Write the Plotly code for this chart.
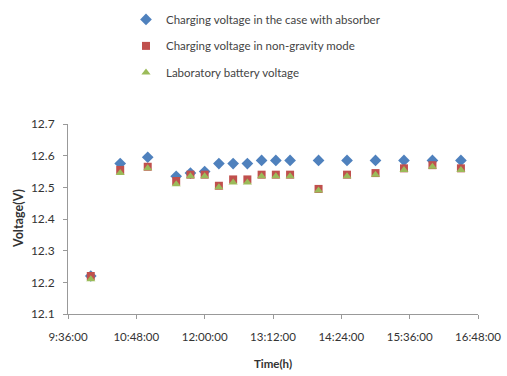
import plotly.graph_objects as go

times = ["10:00", "10:31", "11:00", "11:30", "11:45", "12:00", "12:15", "12:30", "12:45",
         "13:00", "13:15", "13:30", "14:00", "14:30", "15:00", "15:30", "16:00", "16:30"]
absorber = [12.22, 12.575, 12.595, 12.535, 12.545, 12.55, 12.575, 12.575, 12.575,
            12.585, 12.585, 12.585, 12.585, 12.585, 12.585, 12.585, 12.585, 12.585]
nongravity = [12.22, 12.555, 12.565, 12.52, 12.54, 12.54, 12.505, 12.525, 12.525,
              12.54, 12.54, 12.54, 12.495, 12.54, 12.545, 12.56, 12.57, 12.56]
laboratory = [12.21, 12.545, 12.56, 12.51, 12.535, 12.535, 12.50, 12.515, 12.515,
              12.535, 12.535, 12.535, 12.49, 12.535, 12.54, 12.555, 12.565, 12.555]

x = ["2000-01-01 " + t + ":00" for t in times]

fig = go.Figure()
fig.add_trace(go.Scatter(x=x, y=absorber, mode="markers", name="Charging voltage in the case with absorber",
                         marker=dict(symbol="diamond", size=9, color="#4F81BD"), legendgroup="a"))
fig.add_trace(go.Scatter(x=x, y=nongravity, mode="markers", name="Charging voltage in non-gravity mode",
                         marker=dict(symbol="square", size=8, color="#C0504D"), legendgroup="b"))
fig.add_trace(go.Scatter(x=x, y=laboratory, mode="markers", name="Laboratory battery voltage",
                         marker=dict(symbol="triangle-up", size=8, color="#9BBB59"), legendgroup="c"))

font = "Lato, 'Open Sans', sans-serif"
fig.update_layout(
    width=507, height=376,
    margin=dict(l=68, r=29, t=124, b=62, autoexpand=False),
    paper_bgcolor="white", plot_bgcolor="white",
    font=dict(family=font, size=11, color="#333"),
    showlegend=True,
    legend=dict(xref="container", yref="container", x=0.2485, y=0.987,
                xanchor="left", yanchor="top", font=dict(size=11.5, color="#444"),
                tracegroupgap=7.5, itemwidth=30, bgcolor="rgba(0,0,0,0)"),
    xaxis=dict(type="date", range=["2000-01-01 09:36:00", "2000-01-01 16:48:00"],
               dtick=72 * 60 * 1000, tick0="2000-01-01 09:36:00", tickformat="%-H:%M:%S",
               showgrid=False, showline=True, linecolor="#999", linewidth=1,
               ticks="outside", ticklen=4, tickcolor="#999", zeroline=False,
               ticklabelstandoff=8, automargin=False,
               title=dict(text="<b>Time(h)</b>", font=dict(size=11.5, color="#333"), standoff=18),
               tickfont=dict(size=11.5, color="#333")),
    yaxis=dict(range=[12.1, 12.7], dtick=0.1, tickformat=".1f",
               showgrid=False, showline=True, linecolor="#999", linewidth=1,
               ticks="outside", ticklen=4, tickcolor="#999", zeroline=False,
               ticklabelstandoff=6, automargin=False,
               tickfont=dict(size=12, color="#333")),
    annotations=[dict(text="<b>Voltage(V)</b>", x=0, y=0.5, xref="paper", yref="paper",
                      xshift=-50, textangle=-90, showarrow=False,
                      xanchor="center", yanchor="middle",
                      font=dict(size=12.5, color="#333", family=font))],
)

fig.write_html("out.html")
